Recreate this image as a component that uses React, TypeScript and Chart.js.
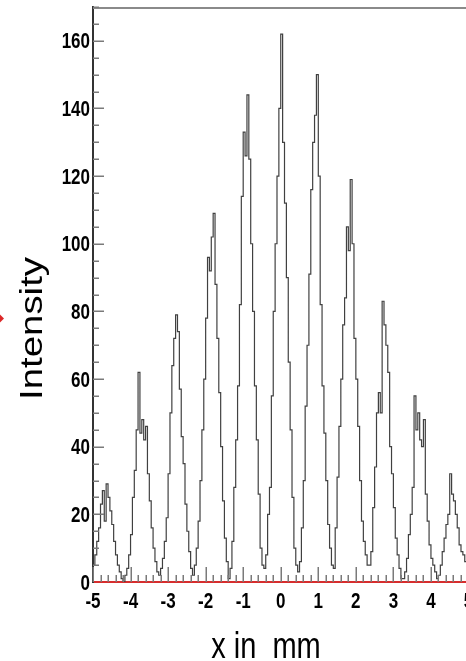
import React, { useEffect, useRef } from 'react';
import { Chart, registerables } from 'chart.js';

Chart.register(...registerables);

// Histogram bins: start at -5 mm, 0.05 mm wide (200 bins, last one ends at +5 mm)
const X_START = -5;
const X_END = 5;
const BIN_WIDTH = 0.05;

// Intensity per bin (20 bins per mm)
const intensity: number[] = [
  // -5.00 .. -4.05
  5, 8, 12, 16, 23, 27, 18, 29, 25, 21, 17, 12, 8, 5, 3, 1, 0, 2, 4, 8,
  // -4.00 .. -3.05
  14, 25, 33, 45, 62, 44, 48, 42, 46, 32, 24, 16, 10, 6, 3, 2, 4, 7, 12, 19,
  // -3.00 .. -2.05
  32, 50, 64, 72, 79, 74, 57, 43, 35, 23, 15, 9, 4, 2, 5, 10, 18, 30, 45, 60,
  // -2.00 .. -1.05
  78, 96, 92, 102, 109, 88, 72, 56, 40, 24, 13, 6, 1, 4, 12, 28, 42, 58, 82, 114,
  // -1.00 .. -0.05
  133, 126, 144, 125, 100, 80, 58, 42, 26, 10, 5, 4, 8, 20, 28, 55, 80, 100, 120, 140,
  // 0.00 .. 0.95
  162, 130, 112, 90, 65, 45, 25, 10, 5, 3, 6, 16, 30, 52, 70, 91, 116, 130, 138, 150,
  // 1.00 .. 1.95
  120, 82, 58, 44, 30, 17, 10, 5, 4, 16, 31, 46, 60, 76, 84, 105, 98, 119, 100, 72,
  // 2.00 .. 2.95
  60, 46, 30, 18, 12, 8, 5, 5, 9, 22, 34, 50, 56, 50, 83, 76, 70, 62, 40, 32,
  // 3.00 .. 3.95
  22, 13, 8, 4, 1, 1, 3, 7, 14, 20, 28, 55, 45, 50, 42, 40, 48, 26, 18, 11,
  // 4.00 .. 4.95
  7, 5, 3, 1, 2, 5, 9, 13, 17, 20, 32, 26, 24, 20, 16, 11, 9, 8, 6, 4,
];

const Y_MIN = 0;
const Y_MAX = 170;
const Y_MAJOR_STEP = 20;
const Y_MINOR_STEP = 5;
const X_MAJOR_STEP = 1;
const X_MINOR_STEP = 0.2;

const X_TITLE = 'x in  mm';
const Y_TITLE = 'Intensity';

const LABEL_FONT = "'Liberation Sans', Arial, sans-serif";

const decorPlugin = {
  id: 'decor',
  afterDatasetsDraw(chart: any) {
    const { ctx, chartArea } = chart;
    const xs = chart.scales.x;
    const ys = chart.scales.y;
    ctx.save();
    // top frame line
    ctx.strokeStyle = '#8a8a8a';
    ctx.lineWidth = 2;
    ctx.beginPath();
    ctx.moveTo(chartArea.left, chartArea.top + 1);
    ctx.lineTo(chart.width, chartArea.top + 1);
    ctx.stroke();

    // inward tick marks
    ctx.strokeStyle = '#7a7a7a';
    ctx.lineWidth = 1.5;
    const nx = Math.round((X_END - X_START) / X_MINOR_STEP);
    const every = Math.round(X_MAJOR_STEP / X_MINOR_STEP);
    for (let i = 0; i <= nx; i++) {
      const v = X_START + i * X_MINOR_STEP;
      const major = i % every === 0;
      const px = Math.round(xs.getPixelForValue(v)) + 0.25;
      const len = major ? 15 : 7;
      ctx.beginPath();
      ctx.moveTo(px, chartArea.bottom);
      ctx.lineTo(px, chartArea.bottom - len);
      ctx.stroke();
    }
    const ny = Math.round((Y_MAX - Y_MIN) / Y_MINOR_STEP);
    for (let i = 1; i <= ny; i++) {
      const v = Y_MIN + i * Y_MINOR_STEP;
      const major = v % Y_MAJOR_STEP === 0;
      const py = Math.round(ys.getPixelForValue(v)) + 0.25;
      const len = major ? 11 : 6;
      ctx.beginPath();
      ctx.moveTo(chartArea.left, py);
      ctx.lineTo(chartArea.left + len, py);
      ctx.stroke();
    }
    ctx.restore();
  },
  afterDraw(chart: any) {
    const { ctx, chartArea } = chart;
    const xs = chart.scales.x;
    const ys = chart.scales.y;
    ctx.save();
    ctx.fillStyle = '#000';

    // tick labels (bold, vertically stretched like the reference)
    ctx.font = `bold 17px ${LABEL_FONT}`;
    ctx.textBaseline = 'alphabetic';
    ctx.textAlign = 'center';
    xs.ticks.forEach((t: any) => {
      const px = xs.getPixelForValue(t.value);
      ctx.save();
      ctx.translate(px, chartArea.bottom + 26);
      ctx.scale(1, 1.25);
      ctx.fillText(String(t.value), 0, 0);
      ctx.restore();
    });
    ctx.textAlign = 'right';
    ys.ticks.forEach((t: any) => {
      const py = ys.getPixelForValue(t.value);
      ctx.save();
      ctx.translate(chartArea.left - 3, py + 7.5);
      ctx.scale(1, 1.25);
      ctx.fillText(String(t.value), 0, 0);
      ctx.restore();
    });

    // y title, rotated and stretched along the text
    ctx.save();
    ctx.translate(chartArea.left - 51, (chartArea.top + chartArea.bottom) / 2 + 34);
    ctx.rotate(-Math.PI / 2);
    ctx.scale(1.2, 1);
    ctx.font = `32px ${LABEL_FONT}`;
    ctx.textAlign = 'center';
    ctx.fillText(Y_TITLE, 0, 0);
    ctx.restore();

    // x title
    ctx.save();
    ctx.translate(chartArea.left + 173, chartArea.bottom + 76);
    ctx.scale(1, 1.25);
    ctx.font = `29px ${LABEL_FONT}`;
    ctx.textAlign = 'center';
    ctx.fillText(X_TITLE, 0, 0);
    ctx.restore();

    // small red arrow tip at the left edge
    const cy = (chartArea.top + chartArea.bottom) / 2 + 24;
    ctx.fillStyle = 'rgb(220,40,40)';
    ctx.beginPath();
    ctx.moveTo(0, cy - 4);
    ctx.lineTo(4, cy);
    ctx.lineTo(0, cy + 4);
    ctx.closePath();
    ctx.fill();
    ctx.restore();
  },
};

export default function App() {
  const canvasRef = useRef<HTMLCanvasElement | null>(null);

  useEffect(() => {
    const canvas = canvasRef.current;
    if (!canvas) return;
    const points = intensity.map((v, i) => ({ x: +(X_START + i * BIN_WIDTH).toFixed(2), y: v }));
    points.push({ x: X_END, y: intensity[intensity.length - 1] });

    const chart = new Chart(canvas, {
      type: 'line',
      data: {
        datasets: [
          {
            data: points,
            stepped: 'before',
            borderColor: '#404040',
            borderWidth: 1.2,
            pointRadius: 0,
            fill: false,
          },
        ],
      },
      options: {
        animation: false,
        responsive: false,
        maintainAspectRatio: false,
        devicePixelRatio: 1,
        layout: { padding: { top: 7, right: 11.5, left: 0, bottom: 0 } },
        plugins: { legend: { display: false }, tooltip: { enabled: false } },
        scales: {
          x: {
            type: 'linear',
            min: X_START,
            max: X_END,
            grid: { display: false, drawTicks: false },
            border: { display: true, color: 'rgb(215,45,45)', width: 2 },
            ticks: { stepSize: X_MAJOR_STEP, display: false },
            afterFit: (s: any) => {
              s.height = 79;
            },
          },
          y: {
            min: Y_MIN,
            max: Y_MAX,
            grid: { display: false, drawTicks: false },
            border: { display: true, color: '#333', width: 2 },
            ticks: { stepSize: Y_MAJOR_STEP, includeBounds: false, display: false },
            afterFit: (s: any) => {
              s.width = 93;
            },
          },
        },
      },
      plugins: [decorPlugin],
    } as any);

    return () => chart.destroy();
  }, []);

  return (
    <div
      style={{
        position: 'fixed',
        left: 0,
        top: 0,
        width: 466,
        height: 661,
        overflow: 'hidden',
        background: '#fff',
      }}
    >
      <canvas ref={canvasRef} width={480} height={661} style={{ display: 'block', width: 480, height: 661 }} />
    </div>
  );
}
